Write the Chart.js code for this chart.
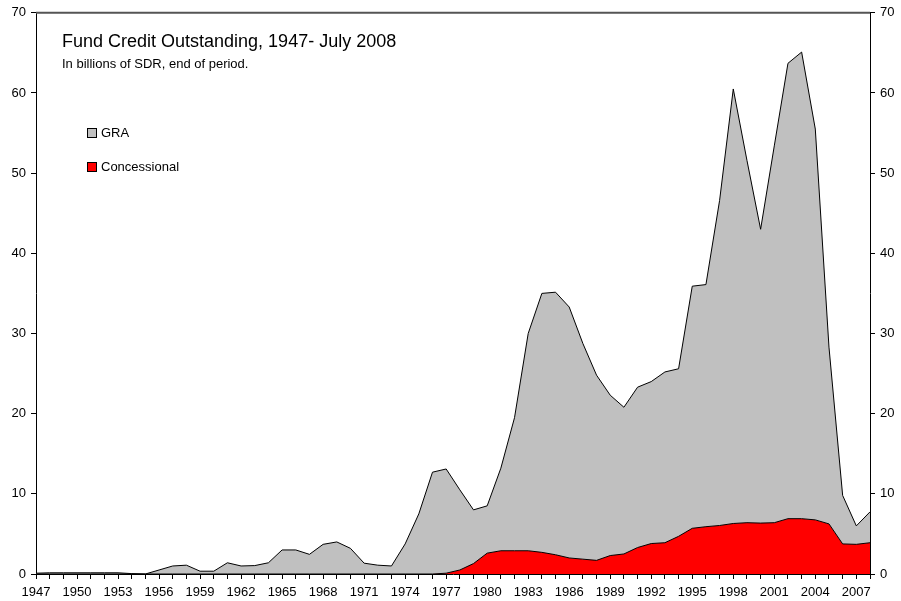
<!DOCTYPE html>
<html>
<head>
<meta charset="utf-8">
<script src="https://cdn.jsdelivr.net/npm/chart.js@4.4.0/dist/chart.umd.min.js"></script>
<style>
  html, body { margin: 0; padding: 0; background: #fff; }
  #wrap { position: relative; width: 901px; height: 601px; }
  canvas { display: block; }
  .txt { position: absolute; font-family: "Liberation Sans", Arial, sans-serif; color: #000; white-space: nowrap; }
  .title { left: 62px; top: 31px; font-size: 18px; }
  .sub { left: 62px; top: 56px; font-size: 13px; }
  .leg { left: 87px; font-size: 13px; }
  .leg i { display: inline-block; width: 8px; height: 8px; border: 1px solid #000; margin-right: 4px; vertical-align: -1px; }
</style>
</head>
<body>
<div id="wrap">
  <canvas id="chart" width="901" height="601"></canvas>
  <div class="txt title">Fund Credit Outstanding, 1947- July 2008</div>
  <div class="txt sub">In billions of SDR, end of period.</div>
  <div class="txt leg" style="top:125px"><i style="background:#c0c0c0"></i>GRA</div>
  <div class="txt leg" style="top:159px"><i style="background:#ff0000"></i>Concessional</div>
</div>
<script>
// years on the category axis
const years = [
  '1947','1948','1949','1950','1951','1952','1953','1954','1955','1956',
  '1957','1958','1959','1960','1961','1962','1963','1964','1965','1966',
  '1967','1968','1969','1970','1971','1972','1973','1974','1975','1976',
  '1977','1978','1979','1980','1981','1982','1983','1984','1985','1986',
  '1987','1988','1989','1990','1991','1992','1993','1994','1995','1996',
  '1997','1998','1999','2000','2001','2002','2003','2004','2005','2006',
  '2007','2008'
];

// concessional credit outstanding (bottom layer), billions of SDR
const concessional = [
  0,0,0,0,0,0,0,0,0,0,
  0,0,0,0,0,0,0,0,0,0,
  0,0,0,0,0,0,0,0,0,0,
  0.1,0.5,1.3,2.6,2.9,2.9,2.9,2.7,2.4,2.0,
  1.85,1.7,2.3,2.5,3.3,3.8,3.9,4.7,5.7,5.9,
  6.05,6.3,6.4,6.35,6.4,6.9,6.9,6.75,6.25,3.75,
  3.7,3.9
];

// GRA credit outstanding (stacked on top), billions of SDR
const gra = [
  0.1,0.15,0.15,0.15,0.15,0.15,0.15,0.05,0,0.5,
  1.0,1.1,0.35,0.35,1.4,1.0,1.05,1.4,3.0,3.0,
  2.45,3.7,4.0,3.2,1.35,1.1,1.0,3.75,7.5,12.7,
  13.0,10.0,6.7,5.9,10.3,16.6,27.1,32.3,32.75,31.3,
  26.9,23.1,20.0,18.3,20.0,20.2,21.3,20.9,30.2,30.2,
  40.55,54.2,45.2,36.65,47.0,56.8,58.2,48.75,22.05,6.05,
  2.3,3.85
];

const yTicks = [0, 10, 20, 30, 40, 50, 60, 70];

const font = { family: '"Liberation Sans", Arial, sans-serif', size: 13 };

// top border of the plot frame
const frameTop = {
  id: 'frameTop',
  afterDraw(chart) {
    const { ctx, chartArea } = chart;
    ctx.save();
    ctx.strokeStyle = '#555';
    ctx.lineWidth = 2;
    ctx.beginPath();
    ctx.moveTo(chartArea.left, chartArea.top);
    ctx.lineTo(chartArea.right, chartArea.top);
    ctx.stroke();
    ctx.restore();
  }
};

const yAxis = (position, width) => ({
  position,
  stacked: true,
  min: 0,
  max: 70,
  afterFit: s => { s.width = width; },
  afterBuildTicks: s => { s.ticks = yTicks.map(v => ({ value: v })); },
  grid: { drawOnChartArea: false, drawTicks: true, tickLength: 5, color: '#000' },
  border: { color: '#000', width: 1 },
  ticks: { color: '#000', font, padding: 5 }
});

new Chart(document.getElementById('chart'), {
  type: 'line',
  data: {
    labels: years,
    datasets: [
      {
        label: 'Concessional',
        data: concessional,
        yAxisID: 'y',
        backgroundColor: '#ff0000',
        borderColor: '#000',
        borderWidth: 1,
        fill: 'origin',
        pointRadius: 0,
        tension: 0
      },
      {
        label: 'GRA',
        data: gra,
        yAxisID: 'y',
        backgroundColor: '#c0c0c0',
        borderColor: '#000',
        borderWidth: 1,
        fill: '-1',
        pointRadius: 0,
        tension: 0
      }
    ]
  },
  options: {
    responsive: false,
    devicePixelRatio: 1,
    animation: false,
    layout: { padding: { top: 12, left: 0, right: 0, bottom: 0 } },
    plugins: { legend: { display: false }, tooltip: { enabled: false } },
    scales: {
      x: {
        offset: false,
        afterFit: s => { s.height = 27; },
        grid: { drawOnChartArea: false, drawTicks: true, tickLength: 5, color: '#000' },
        border: { color: '#000', width: 1 },
        ticks: {
          color: '#000', font, autoSkip: false, maxRotation: 0, padding: 6,
          callback: (v, i) => (i % 3 === 0 ? years[i] : '')
        }
      },
      y: yAxis('left', 36),
      y2: Object.assign(yAxis('right', 31), { stacked: false })
    }
  },
  plugins: [frameTop]
});
</script>
</body>
</html>
